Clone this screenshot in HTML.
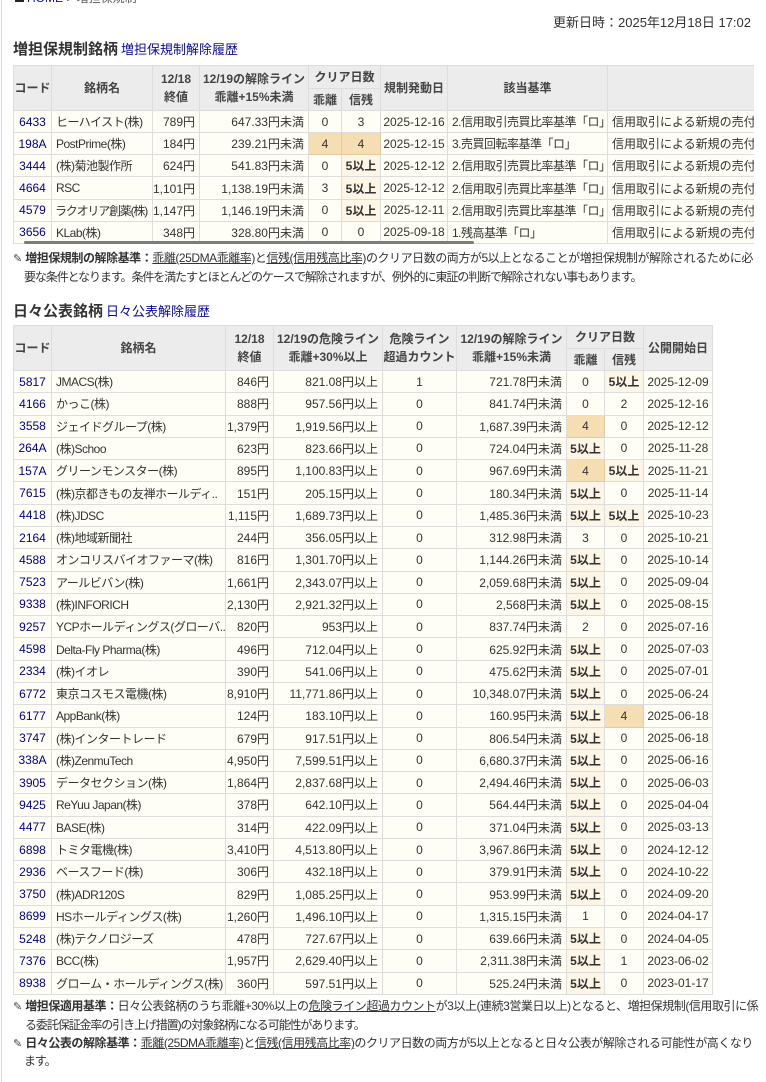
<!DOCTYPE html>
<html lang="ja">
<head>
<meta charset="utf-8">
<style>
*{box-sizing:border-box;}
html,body{margin:0;padding:0;}
body{width:766px;height:1082px;overflow:hidden;position:relative;background:#fff;color:#333;font-family:"Liberation Sans","Noto Sans CJK JP",sans-serif;font-size:12px;}
.abs{position:absolute;white-space:nowrap;}
.vline{position:absolute;left:1px;top:0;width:1px;height:1082px;background:#d8d8d8;}
.crumb{left:15px;top:-8px;font-size:12px;line-height:12px;color:#555;}
.crumb i{display:inline-block;width:9px;height:10px;background:#222;vertical-align:top;margin-right:3px;}
.crumb a{color:#1010a0;text-decoration:none;}
.upd{right:15px;top:13px;font-size:13px;line-height:20px;color:#333;}
.hd{left:13px;font-size:15px;line-height:20px;font-weight:bold;color:#333;}
.hd a{font-size:13px;font-weight:normal;color:#0a0a96;text-decoration:none;margin-left:3px;}
.wrap{position:absolute;overflow:hidden;}
.grid{display:grid;border-top:1px solid #ddd;border-left:1px solid #ddd;}
.grid>div{border-right:1px solid #ddd;border-bottom:1px solid #ddd;display:flex;align-items:center;justify-content:center;white-space:nowrap;overflow:hidden;background:#fefef6;padding:0 4px;font-size:12px;color:#333;}
.grid>div.h{background:#ececec;font-weight:bold;text-align:center;line-height:18px;color:#444;padding:0 2px;}
.grid>div.l{justify-content:flex-start;}
.grid>div.r{justify-content:flex-end;}
.grid>div.n{letter-spacing:-0.5px;}
.grid>div.k{color:#000080;}
.grid>div.w{background:#f5deb3;border-right-color:#e6cb98;border-bottom-color:#e6cb98;}
.grid>div.o{background:#fdf5e6;}
.grid b{font-weight:bold;color:#333;}
.note{font-size:12px;line-height:18px;letter-spacing:-0.45px;color:#333;}
.note.s{letter-spacing:-1.1px;}
.note b{color:#333;}
.note u{text-decoration:underline;}
.pen{font-size:11px;color:#444;letter-spacing:0;margin-right:3px;}
.sb{position:absolute;left:24px;top:241px;width:450px;height:3px;background:#7c7c7c;border-radius:2px;}
</style>
</head>
<body>
<div class="vline"></div>
<div class="abs crumb"><i></i><a>HOME</a> &gt; 増担保規制</div>
<div class="abs upd">更新日時：2025年12月18日 17:02</div>

<div class="abs hd" style="top:40px;">増担保規制銘柄<a>増担保規制解除履歴</a></div>

<div class="wrap" style="left:13px;top:65px;width:741px;height:180px;">
<div class="grid" style="width:995px;grid-template-columns:38px 101px 47px 109px 33px 39px 67px 160px 400px;grid-template-rows:23px 22px repeat(6,22.17px);">
<div class="h" style="grid-row:span 2;">コード</div>
<div class="h" style="grid-row:span 2;">銘柄名</div>
<div class="h" style="grid-row:span 2;">12/18<br>終値</div>
<div class="h" style="grid-row:span 2;">12/19の解除ライン<br>乖離+15%未満</div>
<div class="h" style="grid-column:5 / span 2;grid-row:1;">クリア日数</div>
<div class="h" style="grid-row:span 2;">規制発動日</div>
<div class="h" style="grid-row:span 2;">該当基準</div>
<div class="h" style="grid-row:span 2;"></div>
<div class="h" style="grid-row:2;grid-column:5;">乖離</div>
<div class="h" style="grid-row:2;grid-column:6;">信残</div>

<div class="k">6433</div><div class="l n">ヒーハイスト(株)</div><div class="r">789円</div><div class="r">647.33円未満</div><div>0</div><div>3</div><div>2025-12-16</div><div class="l n">2.信用取引売買比率基準「ロ」</div><div class="l">信用取引による新規の売付けに係る委託保証金率</div>
<div class="k">198A</div><div class="l n">PostPrime(株)</div><div class="r">184円</div><div class="r">239.21円未満</div><div class="w">4</div><div class="w">4</div><div>2025-12-15</div><div class="l n">3.売買回転率基準「ロ」</div><div class="l">信用取引による新規の売付けに係る委託保証金率</div>
<div class="k">3444</div><div class="l n">(株)菊池製作所</div><div class="r">624円</div><div class="r">541.83円未満</div><div>0</div><div class="o"><b>5以上</b></div><div>2025-12-12</div><div class="l n">2.信用取引売買比率基準「ロ」</div><div class="l">信用取引による新規の売付けに係る委託保証金率</div>
<div class="k">4664</div><div class="l n">RSC</div><div class="r">1,101円</div><div class="r">1,138.19円未満</div><div>3</div><div class="o"><b>5以上</b></div><div>2025-12-12</div><div class="l n">2.信用取引売買比率基準「ロ」</div><div class="l">信用取引による新規の売付けに係る委託保証金率</div>
<div class="k">4579</div><div class="l n" style="letter-spacing:-1.2px;padding-left:3px;">ラクオリア創薬(株)</div><div class="r">1,147円</div><div class="r">1,146.19円未満</div><div>0</div><div class="o"><b>5以上</b></div><div>2025-12-11</div><div class="l n">2.信用取引売買比率基準「ロ」</div><div class="l">信用取引による新規の売付けに係る委託保証金率</div>
<div class="k">3656</div><div class="l n">KLab(株)</div><div class="r">348円</div><div class="r">328.80円未満</div><div>0</div><div>0</div><div>2025-09-18</div><div class="l n">1.残高基準「ロ」</div><div class="l">信用取引による新規の売付けに係る委託保証金率</div>
</div>
</div>
<div class="sb"></div>

<div class="abs note" style="left:13px;top:249px;"><span class="pen">✎</span><b>増担保規制の解除基準：</b><u>乖離(25DMA乖離率)</u>と<u>信残(信用残高比率)</u>のクリア日数の両方が5以上となることが増担保規制が解除されるために必</div>
<div class="abs note s" style="left:24px;top:267.7px;">要な条件となります。条件を満たすとほとんどのケースで解除されますが、例外的に東証の判断で解除されない事もあります。</div>

<div class="abs hd" style="top:301.7px;">日々公表銘柄<a>日々公表解除履歴</a></div>

<div class="wrap" style="left:13px;top:325px;width:701px;height:672px;">
<div class="grid" style="width:700px;grid-template-columns:38px 174px 48px 109px 74px 110px 38px 39px 69px;grid-template-rows:23px 22px repeat(28,22.286px);">
<div class="h" style="grid-row:span 2;">コード</div>
<div class="h" style="grid-row:span 2;">銘柄名</div>
<div class="h" style="grid-row:span 2;">12/18<br>終値</div>
<div class="h" style="grid-row:span 2;">12/19の危険ライン<br>乖離+30%以上</div>
<div class="h" style="grid-row:span 2;">危険ライン<br>超過カウント</div>
<div class="h" style="grid-row:span 2;">12/19の解除ライン<br>乖離+15%未満</div>
<div class="h" style="grid-column:7 / span 2;grid-row:1;">クリア日数</div>
<div class="h" style="grid-row:span 2;">公開開始日</div>
<div class="h" style="grid-row:2;grid-column:7;">乖離</div>
<div class="h" style="grid-row:2;grid-column:8;">信残</div>

<div class="k">5817</div><div class="l n">JMACS(株)</div><div class="r">846円</div><div class="r">821.08円以上</div><div>1</div><div class="r">721.78円未満</div><div>0</div><div class="o"><b>5以上</b></div><div>2025-12-09</div>
<div class="k">4166</div><div class="l n">かっこ(株)</div><div class="r">888円</div><div class="r">957.56円以上</div><div>0</div><div class="r">841.74円未満</div><div>0</div><div>2</div><div>2025-12-16</div>
<div class="k">3558</div><div class="l n">ジェイドグループ(株)</div><div class="r">1,379円</div><div class="r">1,919.56円以上</div><div>0</div><div class="r">1,687.39円未満</div><div class="w">4</div><div>0</div><div>2025-12-12</div>
<div class="k">264A</div><div class="l n">(株)Schoo</div><div class="r">623円</div><div class="r">823.66円以上</div><div>0</div><div class="r">724.04円未満</div><div class="o"><b>5以上</b></div><div>0</div><div>2025-11-28</div>
<div class="k">157A</div><div class="l n">グリーンモンスター(株)</div><div class="r">895円</div><div class="r">1,100.83円以上</div><div>0</div><div class="r">967.69円未満</div><div class="w">4</div><div class="o"><b>5以上</b></div><div>2025-11-21</div>
<div class="k">7615</div><div class="l n">(株)京都きもの友禅ホールディ..</div><div class="r">151円</div><div class="r">205.15円以上</div><div>0</div><div class="r">180.34円未満</div><div class="o"><b>5以上</b></div><div>0</div><div>2025-11-14</div>
<div class="k">4418</div><div class="l n">(株)JDSC</div><div class="r">1,115円</div><div class="r">1,689.73円以上</div><div>0</div><div class="r">1,485.36円未満</div><div class="o"><b>5以上</b></div><div class="o"><b>5以上</b></div><div>2025-10-23</div>
<div class="k">2164</div><div class="l n">(株)地域新聞社</div><div class="r">244円</div><div class="r">356.05円以上</div><div>0</div><div class="r">312.98円未満</div><div>3</div><div>0</div><div>2025-10-21</div>
<div class="k">4588</div><div class="l n">オンコリスバイオファーマ(株)</div><div class="r">816円</div><div class="r">1,301.70円以上</div><div>0</div><div class="r">1,144.26円未満</div><div class="o"><b>5以上</b></div><div>0</div><div>2025-10-14</div>
<div class="k">7523</div><div class="l n">アールビバン(株)</div><div class="r">1,661円</div><div class="r">2,343.07円以上</div><div>0</div><div class="r">2,059.68円未満</div><div class="o"><b>5以上</b></div><div>0</div><div>2025-09-04</div>
<div class="k">9338</div><div class="l n">(株)INFORICH</div><div class="r">2,130円</div><div class="r">2,921.32円以上</div><div>0</div><div class="r">2,568円未満</div><div class="o"><b>5以上</b></div><div>0</div><div>2025-08-15</div>
<div class="k">9257</div><div class="l n">YCPホールディングス(グローバ..</div><div class="r">820円</div><div class="r">953円以上</div><div>0</div><div class="r">837.74円未満</div><div>2</div><div>0</div><div>2025-07-16</div>
<div class="k">4598</div><div class="l n">Delta-Fly Pharma(株)</div><div class="r">496円</div><div class="r">712.04円以上</div><div>0</div><div class="r">625.92円未満</div><div class="o"><b>5以上</b></div><div>0</div><div>2025-07-03</div>
<div class="k">2334</div><div class="l n">(株)イオレ</div><div class="r">390円</div><div class="r">541.06円以上</div><div>0</div><div class="r">475.62円未満</div><div class="o"><b>5以上</b></div><div>0</div><div>2025-07-01</div>
<div class="k">6772</div><div class="l n">東京コスモス電機(株)</div><div class="r">8,910円</div><div class="r">11,771.86円以上</div><div>0</div><div class="r">10,348.07円未満</div><div class="o"><b>5以上</b></div><div>0</div><div>2025-06-24</div>
<div class="k">6177</div><div class="l n">AppBank(株)</div><div class="r">124円</div><div class="r">183.10円以上</div><div>0</div><div class="r">160.95円未満</div><div class="o"><b>5以上</b></div><div class="w">4</div><div>2025-06-18</div>
<div class="k">3747</div><div class="l n">(株)インタートレード</div><div class="r">679円</div><div class="r">917.51円以上</div><div>0</div><div class="r">806.54円未満</div><div class="o"><b>5以上</b></div><div>0</div><div>2025-06-18</div>
<div class="k">338A</div><div class="l n">(株)ZenmuTech</div><div class="r">4,950円</div><div class="r">7,599.51円以上</div><div>0</div><div class="r">6,680.37円未満</div><div class="o"><b>5以上</b></div><div>0</div><div>2025-06-16</div>
<div class="k">3905</div><div class="l n">データセクション(株)</div><div class="r">1,864円</div><div class="r">2,837.68円以上</div><div>0</div><div class="r">2,494.46円未満</div><div class="o"><b>5以上</b></div><div>0</div><div>2025-06-03</div>
<div class="k">9425</div><div class="l n">ReYuu Japan(株)</div><div class="r">378円</div><div class="r">642.10円以上</div><div>0</div><div class="r">564.44円未満</div><div class="o"><b>5以上</b></div><div>0</div><div>2025-04-04</div>
<div class="k">4477</div><div class="l n">BASE(株)</div><div class="r">314円</div><div class="r">422.09円以上</div><div>0</div><div class="r">371.04円未満</div><div class="o"><b>5以上</b></div><div>0</div><div>2025-03-13</div>
<div class="k">6898</div><div class="l n">トミタ電機(株)</div><div class="r">3,410円</div><div class="r">4,513.80円以上</div><div>0</div><div class="r">3,967.86円未満</div><div class="o"><b>5以上</b></div><div>0</div><div>2024-12-12</div>
<div class="k">2936</div><div class="l n">ベースフード(株)</div><div class="r">306円</div><div class="r">432.18円以上</div><div>0</div><div class="r">379.91円未満</div><div class="o"><b>5以上</b></div><div>0</div><div>2024-10-22</div>
<div class="k">3750</div><div class="l n">(株)ADR120S</div><div class="r">829円</div><div class="r">1,085.25円以上</div><div>0</div><div class="r">953.99円未満</div><div class="o"><b>5以上</b></div><div>0</div><div>2024-09-20</div>
<div class="k">8699</div><div class="l n">HSホールディングス(株)</div><div class="r">1,260円</div><div class="r">1,496.10円以上</div><div>0</div><div class="r">1,315.15円未満</div><div>1</div><div>0</div><div>2024-04-17</div>
<div class="k">5248</div><div class="l n">(株)テクノロジーズ</div><div class="r">478円</div><div class="r">727.67円以上</div><div>0</div><div class="r">639.66円未満</div><div class="o"><b>5以上</b></div><div>0</div><div>2024-04-05</div>
<div class="k">7376</div><div class="l n">BCC(株)</div><div class="r">1,957円</div><div class="r">2,629.40円以上</div><div>0</div><div class="r">2,311.38円未満</div><div class="o"><b>5以上</b></div><div>1</div><div>2023-06-02</div>
<div class="k">8938</div><div class="l n">グローム・ホールディングス(株)</div><div class="r">360円</div><div class="r">597.51円以上</div><div>0</div><div class="r">525.24円未満</div><div class="o"><b>5以上</b></div><div>0</div><div>2023-01-17</div>
</div>
</div>

<div class="abs note" style="left:13px;top:996.7px;"><span class="pen">✎</span><b>増担保適用基準：</b>日々公表銘柄のうち乖離+30%以上の<u>危険ライン超過カウント</u>が3以上(連続3営業日以上)となると、増担保規制(信用取引に係</div>
<div class="abs note s" style="left:25px;top:1016px;">る委託保証金率の引き上げ措置)の対象銘柄になる可能性があります。</div>
<div class="abs note" style="left:13px;top:1034.3px;"><span class="pen">✎</span><b>日々公表の解除基準：</b><u>乖離(25DMA乖離率)</u>と<u>信残(信用残高比率)</u>のクリア日数の両方が5以上となると日々公表が解除される可能性が高くなり</div>
<div class="abs note s" style="left:24px;top:1051.7px;">ます。</div>
</body>
</html>
